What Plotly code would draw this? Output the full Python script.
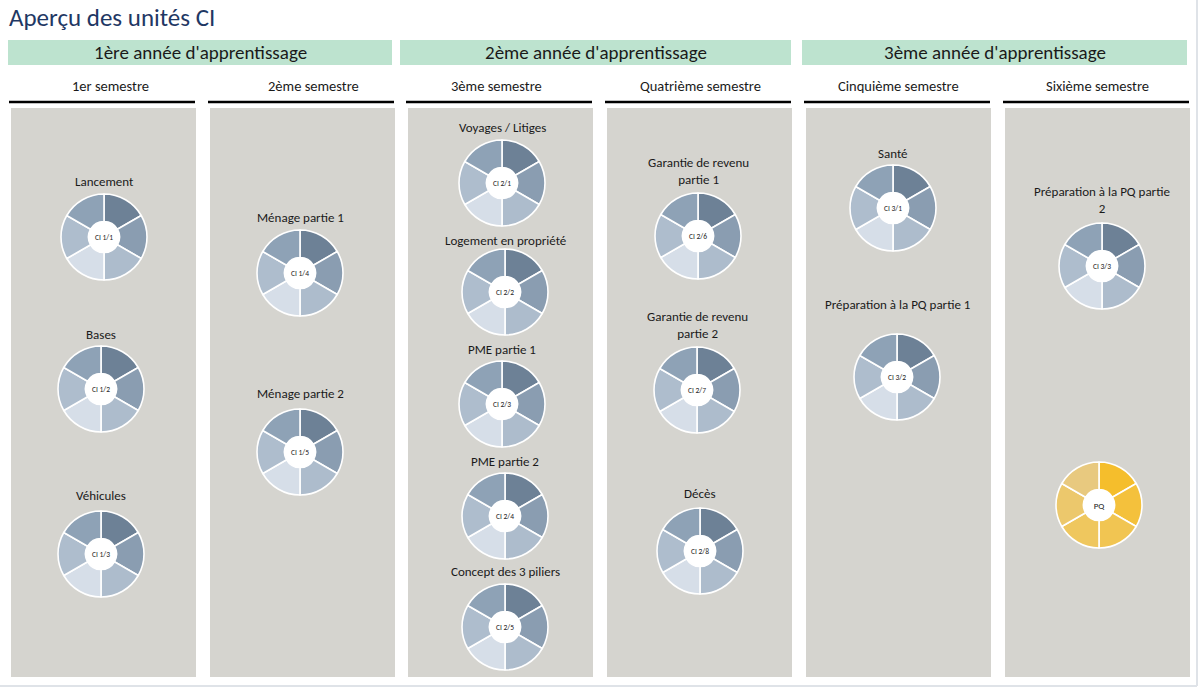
import plotly.graph_objects as go

# --- data -------------------------------------------------------------
title = "Aperçu des unités CI"
years = ["1ère année d'apprentissage", "2ème année d'apprentissage", "3ème année d'apprentissage"]
semesters = ["1er semestre", "2ème semestre", "3ème semestre",
             "Quatrième semestre", "Cinquième semestre", "Sixième semestre"]

unit_names = ["Lancement", "Bases", "Véhicules",
              "Ménage partie 1", "Ménage partie 2",
              "Voyages / Litiges", "Logement en propriété", "PME partie 1", "PME partie 2",
              "Concept des 3 piliers",
              "Garantie de revenu<br>partie 1", "Garantie de revenu<br>partie 2", "Décès",
              "Santé", "Préparation à la PQ partie 1",
              "Préparation à la PQ partie<br>2", ""]
unit_codes = ["CI 1/1", "CI 1/2", "CI 1/3",
              "CI 1/4", "CI 1/5",
              "CI 2/1", "CI 2/2", "CI 2/3", "CI 2/4", "CI 2/5",
              "CI 2/6", "CI 2/7", "CI 2/8",
              "CI 3/1", "CI 3/2",
              "CI 3/3", "PQ"]
segment_values = [1, 1, 1, 1, 1, 1]

# --- layout (pixels, 1200 x 687) -------------------------------------
W, H = 1200, 687
year_boxes = [(8, 392), (400, 791), (802, 1187)]
col_left = [11, 210, 408, 607, 806, 1005]
col_w = 185
sem_label_x = [110, 313, 496, 700, 898, 1097]
# donut centre x, centre y, label y
unit_pos = [(104, 237, 181), (101, 389, 334), (101, 554, 495),
            (300, 273, 217), (300, 452, 393),
            (502, 183, 127), (505, 292, 240), (502, 404, 349), (505, 516, 461), (505, 627, 571),
            (698, 236, 171), (697, 390, 325), (700, 551, 493),
            (893, 208, 153), (897, 377, 304),
            (1102, 266, 200), (1099, 505, None)]
R = 43
HOLE = 0.36

blue = ["#6d8196", "#8a9db1", "#adbccc", "#d6dee8", "#aebdcd", "#8ea2b6"]
gold = ["#f5be2c", "#f4c13c", "#f1c552", "#efc75e", "#ecc86c", "#e8c97f"]
FONT = "Carlito, Lato, sans-serif"

fig = go.Figure()
# empty trace so the pixel-range axes exist for shapes / annotations
fig.add_trace(go.Scatter(x=[None], y=[None], showlegend=False, hoverinfo="skip"))

shapes = []
annotations = []

annotations.append(dict(x=7, y=17, text=title, showarrow=False, xanchor="left", yanchor="middle",
                        font=dict(size=25, color="#1f3864", family=FONT)))

for (x0, x1), name in zip(year_boxes, years):
    shapes.append(dict(type="rect", x0=x0, x1=x1, y0=40, y1=65, fillcolor="#bde3cf", line_width=0, layer="below"))
    annotations.append(dict(x=(x0 + x1) / 2, y=52.5, text=name, showarrow=False,
                            font=dict(size=19, color="#1a1a1a", family=FONT)))

for left, lx, name in zip(col_left, sem_label_x, semesters):
    shapes.append(dict(type="rect", x0=left, x1=left + col_w, y0=108, y1=677,
                       fillcolor="#d5d4cf", line_width=0, layer="below"))
    shapes.append(dict(type="line", x0=left - 2, x1=left + col_w - 1, y0=102, y1=102,
                       line=dict(color="black", width=2.5)))
    annotations.append(dict(x=lx, y=86, text=name, showarrow=False,
                            font=dict(size=14.5, color="#1a1a1a", family=FONT)))

# window border right / bottom
shapes.append(dict(type="line", x0=1197, x1=1197, y0=0, y1=686, line=dict(color="#dfe3e8", width=2)))
shapes.append(dict(type="line", x0=0, x1=1197, y0=686, y1=686, line=dict(color="#dfe3e8", width=2)))

for name, code, (cx, cy, ly) in zip(unit_names, unit_codes, unit_pos):
    colors = gold if code == "PQ" else blue
    # white disc behind the donut hole
    r_in = R * HOLE + 1
    shapes.append(dict(type="circle", x0=cx - r_in, x1=cx + r_in, y0=cy - r_in, y1=cy + r_in,
                       fillcolor="white", line_width=0, layer="below"))
    fig.add_trace(go.Pie(
        values=segment_values, sort=False, direction="clockwise", rotation=0,
        hole=HOLE, marker=dict(colors=colors, line=dict(color="white", width=1.6)),
        textinfo="none", hoverinfo="skip", showlegend=False,
        title=dict(text=code, position="middle center",
                   font=dict(size=9 if code == "PQ" else 7.5, color="#222", family=FONT)),
        domain=dict(x=[(cx - R) / W, (cx + R) / W], y=[1 - (cy + R) / H, 1 - (cy - R) / H]),
    ))
    if ly is not None and name:
        annotations.append(dict(x=cx, y=ly, text=name, showarrow=False,
                                font=dict(size=13, color="#1a1a1a", family=FONT)))

fig.update_layout(
    width=W, height=H, margin=dict(l=0, r=0, t=0, b=0),
    paper_bgcolor="white", plot_bgcolor="rgba(0,0,0,0)",
    xaxis=dict(range=[0, W], visible=False, fixedrange=True),
    yaxis=dict(range=[H, 0], visible=False, fixedrange=True),
    shapes=shapes, annotations=annotations,
)
fig.write_html("out.html", config={"displayModeBar": False},
               post_script="document.body.style.margin='0';")
